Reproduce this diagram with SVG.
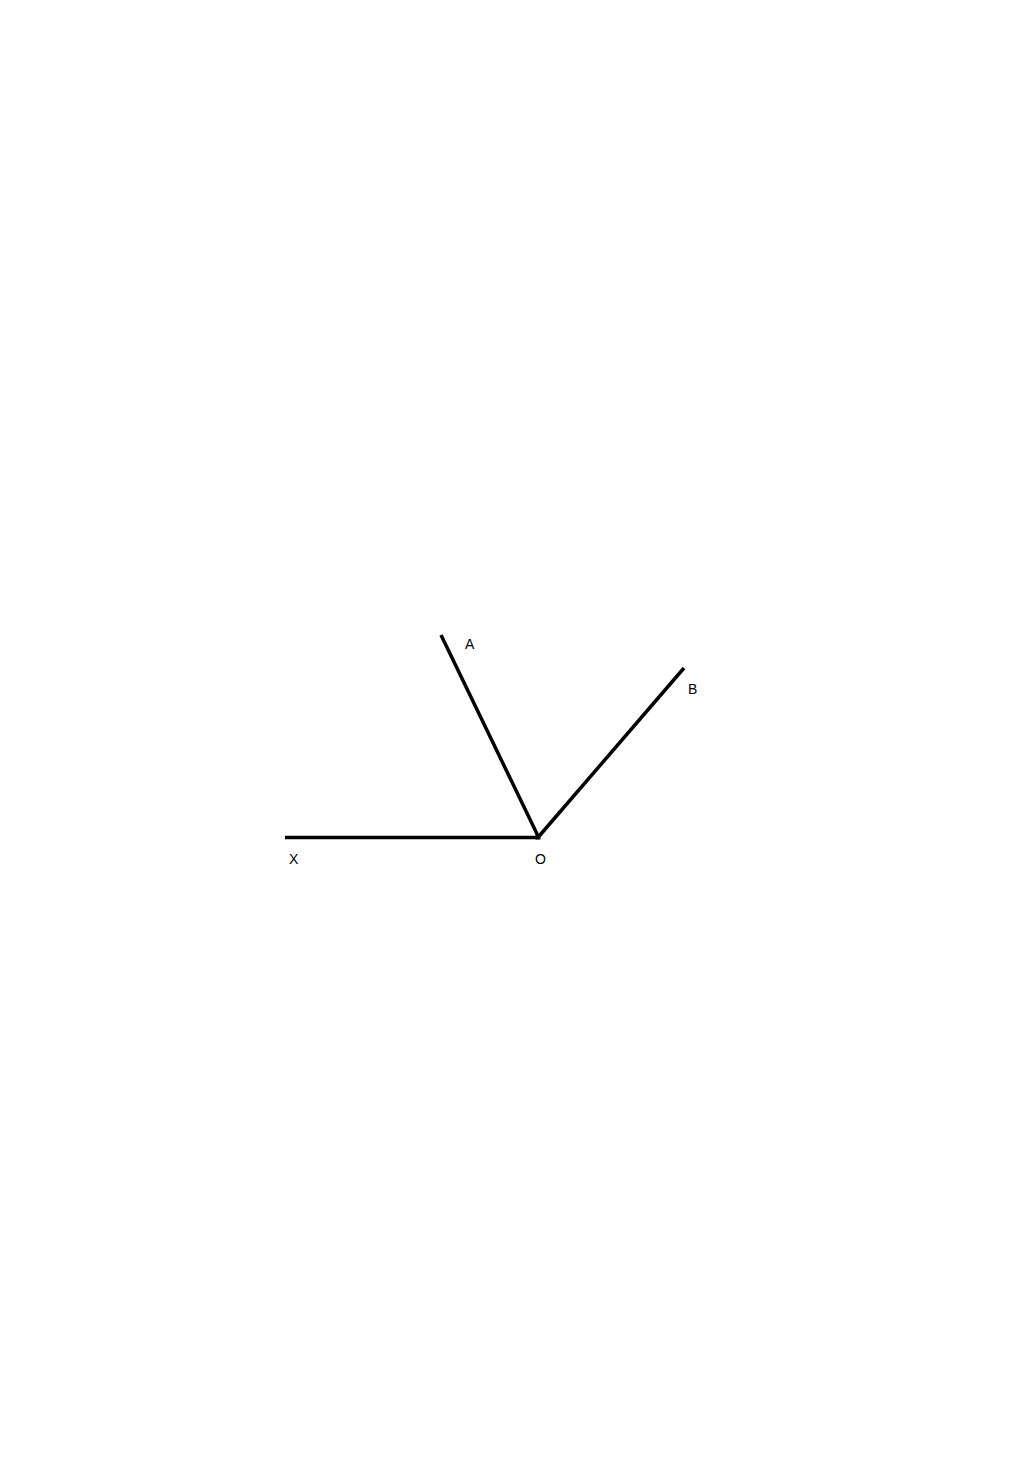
<svg xmlns="http://www.w3.org/2000/svg" width="1024" height="1458" viewBox="0 0 1024 1458">
<style>
.ray{stroke:#000;stroke-width:3.5;fill:none;stroke-linecap:butt}
.lbl{font-family:"Liberation Sans",Arial,sans-serif;font-size:14px;fill:#000}
</style>
<rect width="1024" height="1458" fill="#fff"/>
<g id="connectors">
<line class="ray" x1="285" y1="837.5" x2="539" y2="837.5"/>
<line class="ray" x1="441" y1="635" x2="538.5" y2="837"/>
<line class="ray" x1="684" y1="668" x2="537.5" y2="838"/>
<rect x="535.5" y="834.5" width="5" height="5" fill="#000"/>
</g>
<g id="label-A"><text class="lbl" x="465" y="649">A</text></g>
<g id="label-B"><text class="lbl" x="688" y="694">B</text></g>
<g id="label-X"><text class="lbl" x="289" y="864">X</text></g>
<g id="label-O"><text class="lbl" x="535" y="864">O</text></g>
</svg>
